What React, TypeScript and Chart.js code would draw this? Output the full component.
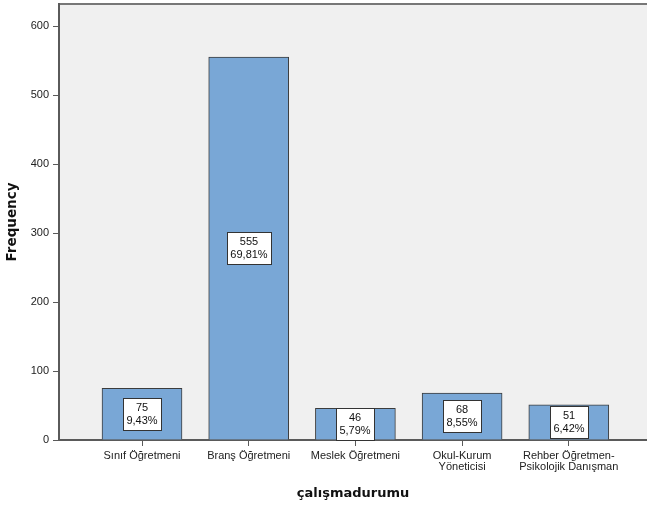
import React, { useEffect, useRef } from "react";
import { Chart, registerables } from "chart.js";

Chart.register(...registerables);

const categories: (string | string[])[] = [
  "Sınıf Öğretmeni",
  "Branş Öğretmeni",
  "Meslek Öğretmeni",
  ["Okul-Kurum", "Yöneticisi"],
  ["Rehber Öğretmen-", "Psikolojik Danışman"],
];
const frequencies = [75, 555, 46, 68, 51];
const yTicks = [0, 100, 200, 300, 400, 500, 600];

const TICK_FONT = { family: "'Liberation Sans', Arial, sans-serif", size: 11, lineHeight: 1.05 };
const AXIS_COLOR = "#5a5a5a";

const labelPlugin = {
  id: "barLabels",
  beforeDraw(chart: any) {
    const { ctx, chartArea } = chart;
    ctx.save();
    ctx.fillStyle = "#f0f0f0";
    ctx.fillRect(chartArea.left, chartArea.top, chartArea.right - chartArea.left, chartArea.bottom - chartArea.top);
    ctx.strokeStyle = "#777777";
    ctx.lineWidth = 2;
    ctx.beginPath();
    ctx.moveTo(chartArea.left, chartArea.top);
    ctx.lineTo(chartArea.right, chartArea.top);
    ctx.stroke();
    ctx.restore();
  },
  afterDatasetsDraw(chart: any) {
    const { ctx } = chart;
    const meta = chart.getDatasetMeta(0);
    const total = frequencies.reduce((a, b) => a + b, 0);
    ctx.save();
    ctx.font = "11px 'Liberation Sans', Arial, sans-serif";
    ctx.textAlign = "center";
    ctx.textBaseline = "middle";
    meta.data.forEach((bar: any, i: number) => {
      const v = frequencies[i];
      const pct = ((v / total) * 100).toFixed(2).replace(".", ",") + "%";
      const l1 = String(v);
      const w = Math.ceil(Math.max(ctx.measureText(l1).width, ctx.measureText(pct).width)) + 6;
      const h = 32;
      const cx = Math.round(bar.x);
      const cy = Math.round((bar.y + bar.base) / 2);
      const x0 = Math.round(cx - w / 2) + 0.5;
      const y0 = Math.round(cy - h / 2) + 0.5;
      ctx.fillStyle = "#ffffff";
      ctx.fillRect(x0, y0, w, h);
      ctx.strokeStyle = "#333333";
      ctx.lineWidth = 1;
      ctx.strokeRect(x0, y0, w, h);
      ctx.fillStyle = "#111111";
      ctx.fillText(l1, cx, cy - 6.5);
      ctx.fillText(pct, cx, cy + 6.5);
    });
    ctx.restore();
  },
};

export default function App() {
  const ref = useRef<HTMLCanvasElement | null>(null);
  useEffect(() => {
    if (!ref.current) return;
    const chart = new Chart(ref.current, {
      type: "bar",
      data: {
        datasets: [
          {
            data: frequencies.map((v, i) => ({ x: i, y: v })),
            backgroundColor: "#79a7d6",
            borderColor: "#3c3c3c",
            borderWidth: 1,
            barThickness: 80,
          },
        ],
      },
      options: {
        animation: false,
        responsive: false,
        devicePixelRatio: 1,
        layout: { padding: { top: 4, left: 0, right: 0, bottom: 0 } },
        plugins: { legend: { display: false }, tooltip: { enabled: false }, title: { display: false } },
        scales: {
          x: {
            type: "linear",
            offset: false,
            min: -0.778,
            max: 4.733,
            afterBuildTicks: (scale: any) => {
              scale.ticks = categories.map((_, i) => ({ value: i }));
            },
            afterFit: (scale: any) => {
              scale.height = 66;
              scale.paddingLeft = 0;
              scale.paddingRight = 0;
            },
            ticks: {
              autoSkip: false,
              maxRotation: 0,
              minRotation: 0,
              padding: 4,
              color: "#222222",
              font: TICK_FONT,
              callback: (value: any) => categories[Math.round(Number(value))] ?? "",
            },
            grid: { offset: false, drawOnChartArea: false, drawTicks: true, tickLength: 6, color: AXIS_COLOR, lineWidth: 1 },
            border: { display: true, color: AXIS_COLOR, width: 2 },
            title: {
              display: true,
              text: "çalışmadurumu",
              color: "#111111",
              font: { family: "'DejaVu Sans', Verdana, sans-serif", size: 13, weight: "bold" },
              padding: { top: 0, bottom: 5 },
            },
          },
          y: {
            min: 0,
            max: 632,
            afterBuildTicks: (scale: any) => {
              scale.ticks = yTicks.map((v) => ({ value: v }));
            },
            afterFit: (scale: any) => {
              scale.width = 59;
              scale.paddingTop = 0;
              scale.paddingBottom = 0;
            },
            ticks: {
              padding: 4,
              color: "#222222",
              font: TICK_FONT,
              includeBounds: false,
            },
            grid: { drawOnChartArea: false, drawTicks: true, tickLength: 6, color: AXIS_COLOR, lineWidth: 1 },
            border: { display: true, color: AXIS_COLOR, width: 2 },
            title: {
              display: true,
              text: "Frequency",
              color: "#111111",
              font: { family: "'DejaVu Sans', Verdana, sans-serif", size: 13.5, weight: "bold" },
              padding: { top: 4, bottom: 0 },
            },
          },
        },
      },
      plugins: [labelPlugin],
    } as any);
    return () => chart.destroy();
  }, []);
  return (
    <div style={{ position: "absolute", left: 0, top: 0, width: 647, height: 506, background: "#ffffff" }}>
      <canvas ref={ref} width={647} height={506} style={{ display: "block", width: 647, height: 506 }} />
    </div>
  );
}
